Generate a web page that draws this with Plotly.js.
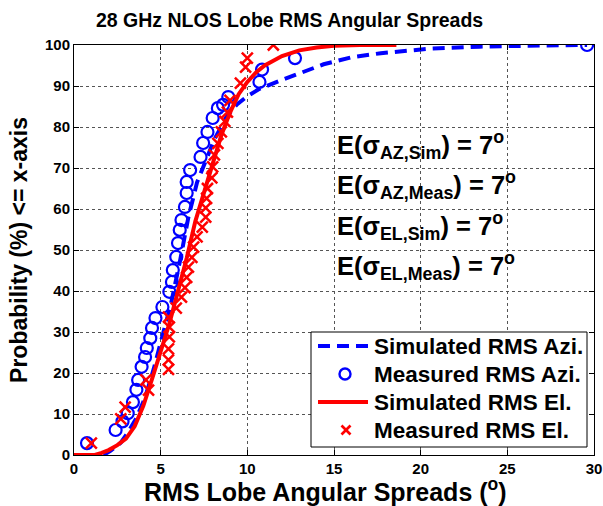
<!DOCTYPE html>
<html>
<head>
<meta charset="utf-8">
<script src="https://cdn.plot.ly/plotly-3.0.1.min.js"></script>
<style>
html, body { margin: 0; padding: 0; background: #fff; }
#chart { width: 603px; height: 506px; }
</style>
</head>
<body>
<div id="chart"></div>
<script>
// Simulated RMS azimuth spread CDF (dashed blue)
const simAziX = [1.7, 2.1, 2.7, 3.1, 3.6, 4.1, 4.6, 5.1, 5.6, 6.1, 6.6, 7.1, 7.6, 8.1, 8.8, 9.4, 10.0, 10.7, 11.9, 13.2, 14.4, 16.0, 17.7, 20.5, 23.4, 26.0, 29.6];
const simAziY = [0, 1, 3, 5.4, 9, 14, 21, 29, 37, 47, 58, 66.5, 71.5, 77, 82.5, 85.5, 87.5, 89.3, 91.3, 93.5, 95.3, 97, 98, 99.1, 99.6, 99.8, 100];

// Measured RMS azimuth spreads (blue circles)
const measAziX = [0.75, 2.4, 2.8, 3.1, 3.4, 3.6, 3.7, 3.9, 4.1, 4.2, 4.4, 4.5, 4.7, 5.1, 5.5, 5.65, 5.7, 5.9, 6.0, 6.1, 6.2, 6.4, 6.5, 6.5, 6.7, 7.3, 7.45, 7.7, 8.0, 8.3, 8.6, 8.9, 10.7, 10.85, 12.75, 29.6];
const measAziY = [2.9, 6.1, 8.2, 10.2, 12.9, 15.9, 18.3, 21.5, 23.9, 26.1, 28.5, 31.0, 33.4, 36.1, 39.8, 42.2, 45.1, 48.3, 51.7, 54.9, 57.3, 60.5, 63.9, 66.6, 69.5, 72.7, 76.1, 78.8, 82.2, 84.6, 85.4, 87.3, 91.0, 94.0, 96.8, 100];

// Simulated RMS elevation spread CDF (solid red)
const simElX = [0, 1.2, 1.6, 2.0, 2.5, 3.0, 3.5, 4.0, 4.5, 5.0, 5.5, 6.0, 6.5, 7.0, 7.5, 8.0, 8.5, 9.0, 9.5, 10.0, 10.5, 11.0, 12.0, 13.0, 14.0, 15.0, 16.5, 18.6];
const simElY = [0, 0, 0.5, 1.2, 2.4, 4, 7, 12, 18.5, 25.5, 32, 40, 48, 57, 64, 71, 78, 83.5, 88, 91, 93.3, 95, 97.3, 98.7, 99.4, 99.8, 100, 100];

// Measured RMS elevation spreads (red crosses)
const measElX = [1.0, 2.7, 2.95, 4.3, 4.15, 5.45, 5.45, 5.45, 5.5, 5.5, 5.45, 5.9, 6.2, 6.4, 6.5, 6.6, 6.8, 6.9, 7.1, 7.4, 7.6, 7.6, 7.65, 7.7, 7.95, 8.0, 8.1, 8.3, 8.5, 8.7, 8.85, 9.0, 9.6, 9.9, 10.0, 11.5];
const measElY = [2.9, 8.8, 11.7, 15.8, 18.3, 20.9, 23.2, 25.9, 28.8, 31.2, 33.6, 35.8, 38.5, 40.8, 43.3, 45.8, 48.2, 50.7, 53.2, 55.6, 58.0, 60.3, 62.6, 65.0, 67.6, 70.3, 73.2, 76.0, 78.8, 81.4, 83.6, 86.5, 90.7, 94.6, 96.8, 100];

const xTicks = [0, 5, 10, 15, 20, 25, 30];
const yTicks = [0, 10, 20, 30, 40, 50, 60, 70, 80, 90, 100];

const legendNames = ['Simulated RMS Azi.', 'Measured RMS Azi.', 'Simulated RMS El.', 'Measured RMS El.'];
const statLines = [
  'E(σ<sub>AZ,Sim</sub>) = 7<sup>o</sup>',
  'E(σ<sub>AZ,Meas</sub>) = 7<sup>o</sup>',
  'E(σ<sub>EL,Sim</sub>) = 7<sup>o</sup>',
  'E(σ<sub>EL,Meas</sub>) = 7<sup>o</sup>'
];
const statY = [75.6, 65.8, 55.9, 46.1];

const FONT = 'Liberation Sans, Arial, sans-serif';
const BLUE = '#0000ff';
const RED = '#ff0000';

const traces = [
  { x: simAziX, y: simAziY, type: 'scatter', mode: 'lines', name: legendNames[0],
    line: { color: BLUE, width: 4, dash: '12px,7px' } },
  { x: measAziX, y: measAziY, type: 'scatter', mode: 'markers', name: legendNames[1],
    marker: { symbol: 'circle-open', size: 12, color: BLUE, line: { width: 2.2, color: BLUE } } },
  { x: simElX, y: simElY, type: 'scatter', mode: 'lines', name: legendNames[2],
    line: { color: RED, width: 4 } },
  { x: measElX, y: measElY, type: 'scatter', mode: 'markers', name: legendNames[3],
    marker: { symbol: 'x-thin-open', size: 11, color: RED, line: { width: 2.5, color: RED } } }
];

const axisCommon = {
  showline: true, linecolor: '#000', linewidth: 1,
  mirror: 'ticks', ticks: 'inside', ticklen: 5, tickwidth: 1, tickcolor: '#000',
  showgrid: true, gridcolor: '#555', gridwidth: 1, griddash: 'dot',
  zeroline: false, automargin: false,
  tickfont: { family: FONT, size: 15, color: '#000', weight: 'bold' }
};

// plot-area pixel helpers for the legend box (plot area: 74..594 x 45..455)
const px = v => (v - 74) / 520;
const py = v => (455 - v) / 410;

const annotations = statLines.map((t, i) => ({
  x: 15.05, y: statY[i], xref: 'x', yref: 'y', text: '<b>' + t + '</b>', showarrow: false,
  xanchor: 'left', yanchor: 'middle',
  font: { family: FONT, size: 25.5, color: '#000', weight: 'bold' }
}));
annotations.push({
  x: 0.415, y: 1, xref: 'paper', yref: 'paper', yshift: 12, text: '<b>28 GHz NLOS Lobe RMS Angular Spreads</b>',
  showarrow: false, xanchor: 'center', yanchor: 'bottom',
  font: { family: FONT, size: 19.5, color: '#000', weight: 'bold' }
});
annotations.push({
  x: px(325), y: py(490), xref: 'paper', yref: 'paper', text: '<b>RMS Lobe Angular Spreads (<sup>o</sup>)</b>',
  showarrow: false, xanchor: 'center', yanchor: 'middle',
  font: { family: FONT, size: 25, color: '#000', weight: 'bold' }
});

// legend (drawn manually to match compact row spacing)
const rowY = [346, 374, 402, 430];
const shapes = [
  { type: 'rect', xref: 'paper', yref: 'paper', x0: px(311), x1: px(587), y0: py(447), y1: py(332),
    fillcolor: '#fff', line: { color: '#000', width: 1 }, layer: 'above' },
  { type: 'line', xref: 'paper', yref: 'paper', x0: px(318), x1: px(368), y0: py(rowY[0]), y1: py(rowY[0]),
    line: { color: BLUE, width: 4, dash: '12px,7px' } },
  { type: 'circle', xref: 'paper', yref: 'paper', x0: px(345 - 5.5), x1: px(345 + 5.5), y0: py(rowY[1] + 5.5), y1: py(rowY[1] - 5.5),
    line: { color: BLUE, width: 2.4 } },
  { type: 'line', xref: 'paper', yref: 'paper', x0: px(318), x1: px(368), y0: py(rowY[2]), y1: py(rowY[2]),
    line: { color: RED, width: 4 } },
  { type: 'line', xref: 'paper', yref: 'paper', x0: px(346 - 4.5), x1: px(346 + 4.5), y0: py(rowY[3] - 4.5), y1: py(rowY[3] + 4.5),
    line: { color: RED, width: 2.6 } },
  { type: 'line', xref: 'paper', yref: 'paper', x0: px(346 - 4.5), x1: px(346 + 4.5), y0: py(rowY[3] + 4.5), y1: py(rowY[3] - 4.5),
    line: { color: RED, width: 2.6 } }
];
legendNames.forEach((n, i) => annotations.push({
  x: px(372), y: py(rowY[i]), xref: 'paper', yref: 'paper', text: '<b>' + n + '</b>',
  showarrow: false, xanchor: 'left', yanchor: 'middle',
  font: { family: FONT, size: 22.5, color: '#000', weight: 'bold' }
}));

const layout = {
  width: 603, height: 506,
  margin: { l: 74, r: 9, t: 45, b: 51 },
  paper_bgcolor: '#fff', plot_bgcolor: '#fff',
  showlegend: false,
  xaxis: Object.assign({}, axisCommon, {
    range: [0, 30], tickvals: xTicks, ticktext: xTicks.map(String)
  }),
  yaxis: Object.assign({}, axisCommon, {
    range: [0, 100], tickvals: yTicks, ticktext: yTicks.map(String),
    title: { text: '<b>Probability (%) <= x-axis</b>', standoff: 10,
      font: { family: FONT, size: 23, color: '#000', weight: 'bold' } }
  }),
  shapes: shapes,
  annotations: annotations
};

Plotly.newPlot('chart', traces, layout, { displayModeBar: false, staticPlot: true });
</script>
</body>
</html>
